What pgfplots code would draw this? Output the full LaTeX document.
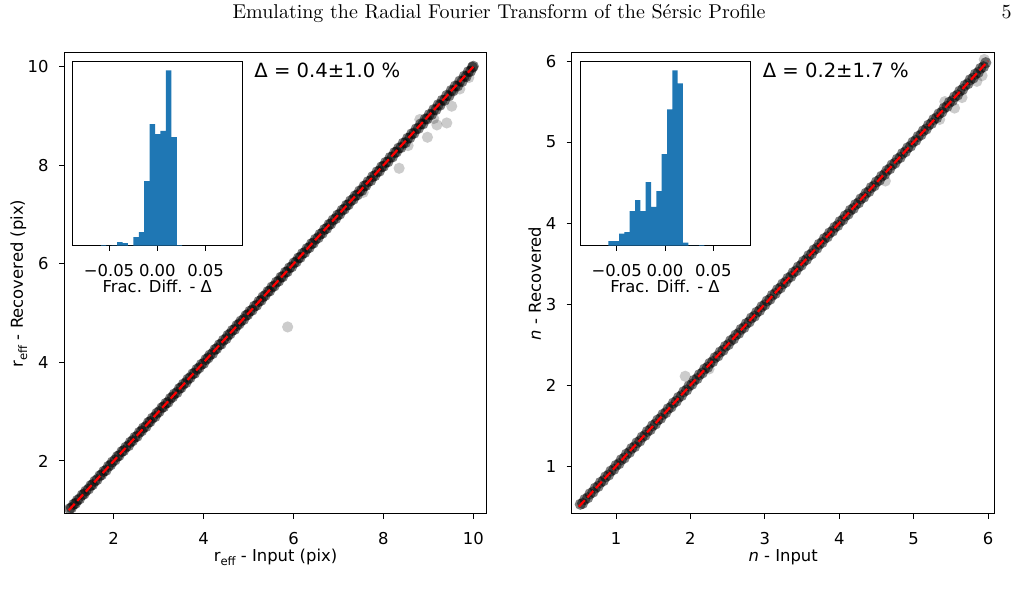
\documentclass[border=0pt]{standalone}
\usepackage{pgfplots}
\pgfplotsset{compat=1.18}
\usepackage{fontspec}
\newfontfamily\dv{DejaVu Sans}
\newcommand\tf{\fontsize{8.2pt}{9.5pt}\selectfont\dv}
\newcommand\af{\fontsize{9.8pt}{11.5pt}\selectfont\dv}
\newcommand\sub[1]{\raisebox{-0.45ex}{\fontsize{5.8pt}{7pt}\selectfont #1}}
\definecolor{tabblue}{HTML}{1F77B4}
\pgfplotsset{
  baseax/.style={scale only axis, anchor=south west, clip marker paths=true,
    axis line style={line width=0.5pt}, tick style={line width=0.5pt, black},
    tick align=outside, major tick length=2.5pt, xtick pos=left, ytick pos=left,
    scaled x ticks=false, scaled y ticks=false,
    /pgf/number format/assume math mode=true,
    xticklabel style={font=\tf, anchor=base, inner sep=0pt, yshift=-13pt},
    yticklabel style={font=\tf, anchor=east, inner sep=0pt, xshift=-5pt},
    label style={font=\tf}},
  mainax/.style={baseax, width=211.5pt, height=230.5pt,
    xlabel style={at={(axis description cs:0.5,-0.104)}, anchor=base},
  },
  insetax/.style={baseax, width=85pt, height=92pt, xmin=-0.088, xmax=0.088, ymin=0, ymax=553,
    ytick=\empty, xtick={-0.05,0,0.05}, xticklabels={−0.05,0.00,0.05},
    axis background/.style={fill=white},
    xlabel={Frac. Diff. - Δ},
    xlabel style={at={(axis description cs:0.5,-0.252)}, anchor=base}},
  pts/.style={only marks, mark=*, mark size=2.8pt, mark options={draw opacity=0, fill=black, fill opacity=0.5}},
  outl/.style={only marks, mark=*, mark size=2.8pt, mark options={draw opacity=0, fill=black, fill opacity=0.2}},
  oneone/.style={red, line width=1.1pt, dash pattern=on 4.4pt off 1.9pt},
  hist/.style={ybar interval, fill=tabblue, draw=none},
}
\begin{document}
\begin{tikzpicture}
\path[use as bounding box] (0,0) rectangle (509pt,296pt);
\node[anchor=base, inner sep=0pt, font=\fontsize{10pt}{12pt}\selectfont] at (249.5pt,286.5pt) {Emulating the Radial Fourier Transform of the Sérsic Profile};
\node[anchor=base east, inner sep=0pt, font=\fontsize{10pt}{12pt}\selectfont] at (506pt,286.5pt) {5};

% ---------------- left panel ----------------
\begin{axis}[mainax, at={(32pt,39pt)},
  xmin=0.894, xmax=10.305, ymin=0.924, ymax=10.28,
  xtick={2,4,6,8,10}, ytick={2,4,6,8,10},
  xlabel={r\sub{eff} - Input (pix)},
  ylabel={r\sub{eff} - Recovered (pix)},
  ylabel style={at={(axis description cs:-0.097,0.5)}, anchor=base, rotate=0}]
\addplot[pts] coordinates {
(1.02,1.03) (1.06,1.05) (1.11,1.12) (1.15,1.14) (1.19,1.20) (1.24,1.23) (1.30,1.31) (1.34,1.33) (1.38,1.39) (1.44,1.43)
(1.49,1.50) (1.53,1.52) (1.58,1.59) (1.63,1.62) (1.69,1.70) (1.73,1.72) (1.78,1.79) (1.83,1.81) (1.88,1.89) (1.93,1.92)
(1.97,1.98) (2.03,2.02) (2.08,2.09) (2.12,2.11) (2.18,2.19) (2.22,2.21) (2.27,2.28) (2.33,2.31) (2.37,2.38) (2.42,2.41)
(2.47,2.48) (2.52,2.50) (2.57,2.58) (2.62,2.61) (2.66,2.67) (2.72,2.70) (2.77,2.78) (2.81,2.80) (2.86,2.87) (2.92,2.90)
(2.96,2.97) (3.01,3.00) (3.07,3.08) (3.11,3.10) (3.16,3.17) (3.21,3.19) (3.26,3.27) (3.31,3.30) (3.35,3.36) (3.41,3.39)
(3.46,3.47) (3.50,3.49) (3.55,3.56) (3.61,3.59) (3.65,3.66) (3.70,3.69) (3.76,3.77) (3.80,3.78) (3.85,3.86) (3.90,3.89)
(3.95,3.96) (4.00,3.98) (4.05,4.06) (4.10,4.09) (4.14,4.15) (4.20,4.18) (4.25,4.26) (4.29,4.28) (4.35,4.36) (4.39,4.37)
(4.44,4.45) (4.50,4.48) (4.54,4.55) (4.59,4.58) (4.64,4.65) (4.69,4.67) (4.74,4.75) (4.79,4.78) (4.83,4.84) (4.89,4.87)
(4.94,4.95) (4.98,4.97) (5.03,5.04) (5.08,5.06) (5.13,5.14) (5.18,5.16) (5.23,5.24) (5.28,5.26) (5.32,5.33) (5.37,5.36)
(5.43,5.44) (5.47,5.45) (5.52,5.53) (5.57,5.55) (5.62,5.63) (5.67,5.65) (5.72,5.73) (5.76,5.74) (5.82,5.83) (5.86,5.84)
(5.91,5.92) (5.96,5.94) (6.01,6.02) (6.06,6.04) (6.11,6.12) (6.15,6.13) (6.20,6.21) (6.25,6.23) (6.30,6.31) (6.35,6.33)
(6.40,6.41) (6.44,6.42) (6.49,6.50) (6.55,6.53) (6.59,6.60) (6.64,6.62) (6.69,6.70) (6.74,6.72) (6.79,6.80) (6.83,6.81)
(6.88,6.89) (6.94,6.92) (6.98,6.99) (7.03,7.01) (7.08,7.09) (7.13,7.11) (7.18,7.19) (7.22,7.20) (7.27,7.28) (7.33,7.31)
(7.37,7.38) (7.42,7.40) (7.47,7.48) (7.52,7.49) (7.57,7.58) (7.61,7.59) (7.66,7.67) (7.72,7.69) (7.76,7.77) (7.81,7.79)
(7.86,7.87) (7.91,7.88) (7.96,7.97) (8.00,7.98) (8.05,8.06) (8.10,8.07) (8.15,8.16) (8.20,8.17) (8.25,8.26) (8.29,8.27)
(8.34,8.35) (8.39,8.36) (8.44,8.45) (8.49,8.46) (8.54,8.55) (8.59,8.56) (8.63,8.64) (8.68,8.65) (8.73,8.74) (8.78,8.75)
(8.83,8.84) (8.88,8.84) (8.93,8.94) (8.97,8.94) (9.02,9.03) (9.07,9.03) (9.12,9.13) (9.17,9.13) (9.22,9.23) (9.26,9.22)
(9.31,9.32) (9.36,9.32) (9.41,9.42) (9.46,9.41) (9.51,9.52) (9.55,9.51) (9.60,9.61) (9.65,9.61) (9.70,9.71) (9.75,9.70)
(9.80,9.81) (9.84,9.80) (9.89,9.90) (9.94,9.91) (9.98,9.99) (10.00,10.01)
};
\addplot[outl] coordinates {
(5.87,4.72) (8.35,7.94) (8.98,8.57) (9.41,8.86) (9.19,8.82) (9.52,9.20) (8.81,8.93) (9.12,8.95) (9.70,9.55) (9.90,9.78) (8.55,8.40) (7.55,7.45)
};
\addplot[oneone] coordinates {(1,1) (10,10)};
\end{axis}
\node[anchor=base west, inner sep=0pt, font=\af] at (127pt,257pt) {Δ = 0.4±1.0 \%};

\begin{axis}[insetax, at={(36.15pt,173.15pt)}]
\addplot[hist] coordinates {
(-0.0585,2) (-0.0529,0) (-0.0472,1) (-0.0416,11) (-0.0360,8) (-0.0304,0) (-0.0248,26) (-0.0192,41)
(-0.0136,194) (-0.0079,365) (-0.0023,335) (0.0033,345) (0.0089,527) (0.0146,326) (0.0202,2) (0.0258,0)
};
\end{axis}

% ---------------- right panel ----------------
\begin{axis}[mainax, at={(285.85pt,39pt)},
  xmin=0.404, xmax=6.09, ymin=0.41, ymax=6.1,
  xtick={1,2,3,4,5,6}, ytick={1,2,3,4,5,6},
  xlabel={\textit{n} - Input},
  ylabel={\textit{n} - Recovered},
  ylabel style={at={(axis description cs:-0.073,0.5)}, anchor=base, rotate=0}]
\addplot[pts] coordinates {
(0.52,0.53) (0.55,0.54) (0.58,0.59) (0.62,0.61) (0.65,0.66) (0.69,0.68) (0.72,0.73) (0.76,0.75) (0.79,0.80) (0.83,0.82)
(0.86,0.87) (0.90,0.89) (0.93,0.94) (0.97,0.96) (1.00,1.01) (1.04,1.03) (1.07,1.08) (1.11,1.10) (1.14,1.15) (1.18,1.17)
(1.21,1.22) (1.25,1.24) (1.28,1.29) (1.32,1.31) (1.35,1.36) (1.39,1.38) (1.42,1.43) (1.46,1.45) (1.49,1.50) (1.53,1.52)
(1.56,1.57) (1.60,1.59) (1.63,1.64) (1.67,1.66) (1.70,1.71) (1.74,1.73) (1.77,1.78) (1.81,1.80) (1.84,1.85) (1.88,1.87)
(1.91,1.92) (1.95,1.94) (1.98,1.99) (2.02,2.01) (2.05,2.06) (2.09,2.08) (2.12,2.13) (2.16,2.15) (2.19,2.20) (2.23,2.22)
(2.26,2.27) (2.30,2.29) (2.33,2.34) (2.37,2.36) (2.40,2.41) (2.44,2.43) (2.47,2.48) (2.51,2.50) (2.54,2.55) (2.58,2.57)
(2.61,2.62) (2.65,2.64) (2.68,2.69) (2.72,2.71) (2.75,2.76) (2.79,2.78) (2.82,2.83) (2.86,2.85) (2.89,2.90) (2.93,2.92)
(2.96,2.97) (3.00,2.99) (3.03,3.04) (3.07,3.06) (3.10,3.11) (3.14,3.13) (3.17,3.18) (3.21,3.20) (3.24,3.25) (3.28,3.27)
(3.31,3.32) (3.35,3.34) (3.38,3.39) (3.42,3.41) (3.45,3.46) (3.49,3.48) (3.52,3.53) (3.56,3.55) (3.59,3.60) (3.63,3.62)
(3.66,3.67) (3.70,3.69) (3.73,3.74) (3.77,3.76) (3.80,3.81) (3.84,3.83) (3.87,3.88) (3.91,3.90) (3.94,3.95) (3.98,3.97)
(4.01,4.02) (4.05,4.04) (4.08,4.09) (4.12,4.11) (4.15,4.16) (4.19,4.18) (4.22,4.23) (4.26,4.25) (4.29,4.30) (4.33,4.32)
(4.36,4.37) (4.40,4.39) (4.43,4.44) (4.47,4.46) (4.50,4.51) (4.54,4.53) (4.57,4.58) (4.61,4.60) (4.64,4.65) (4.68,4.67)
(4.71,4.72) (4.75,4.74) (4.78,4.79) (4.82,4.81) (4.85,4.86) (4.89,4.88) (4.92,4.93) (4.96,4.95) (4.99,5.00) (5.03,5.02)
(5.06,5.07) (5.10,5.09) (5.13,5.14) (5.17,5.16) (5.20,5.21) (5.24,5.23) (5.27,5.28) (5.31,5.30) (5.34,5.35) (5.38,5.37)
(5.41,5.42) (5.45,5.44) (5.48,5.49) (5.52,5.51) (5.55,5.56) (5.59,5.58) (5.62,5.63) (5.66,5.65) (5.69,5.70) (5.73,5.72)
(5.76,5.77) (5.80,5.79) (5.83,5.84) (5.87,5.86) (5.90,5.91) (5.94,5.93) (5.97,5.98)
};
\addplot[outl] coordinates {
(1.93,2.11) (5.55,5.42) (5.65,5.55) (5.85,5.75) (5.35,5.28) (5.42,5.50) (5.92,5.82) (5.95,6.02) (4.62,4.52) (2.25,2.20)
};
\addplot[oneone] coordinates {(0.5,0.5) (6,6)};
\end{axis}
\node[anchor=base west, inner sep=0pt, font=\af] at (381.2pt,257pt) {Δ = 0.2±1.7 \%};

\begin{axis}[insetax, at={(290pt,173.15pt)}]
\addplot[hist] coordinates {
(-0.0586,14) (-0.0531,14) (-0.0476,36) (-0.0420,41) (-0.0365,104) (-0.0310,137) (-0.0255,104) (-0.0200,191)
(-0.0145,117) (-0.0089,164) (-0.0034,275) (0.0021,410) (0.0076,527) (0.0131,488) (0.0186,9) (0.0242,0)
(0.0297,0) (0.0352,2) (0.0407,0)
};
\end{axis}
\end{tikzpicture}
\end{document}
